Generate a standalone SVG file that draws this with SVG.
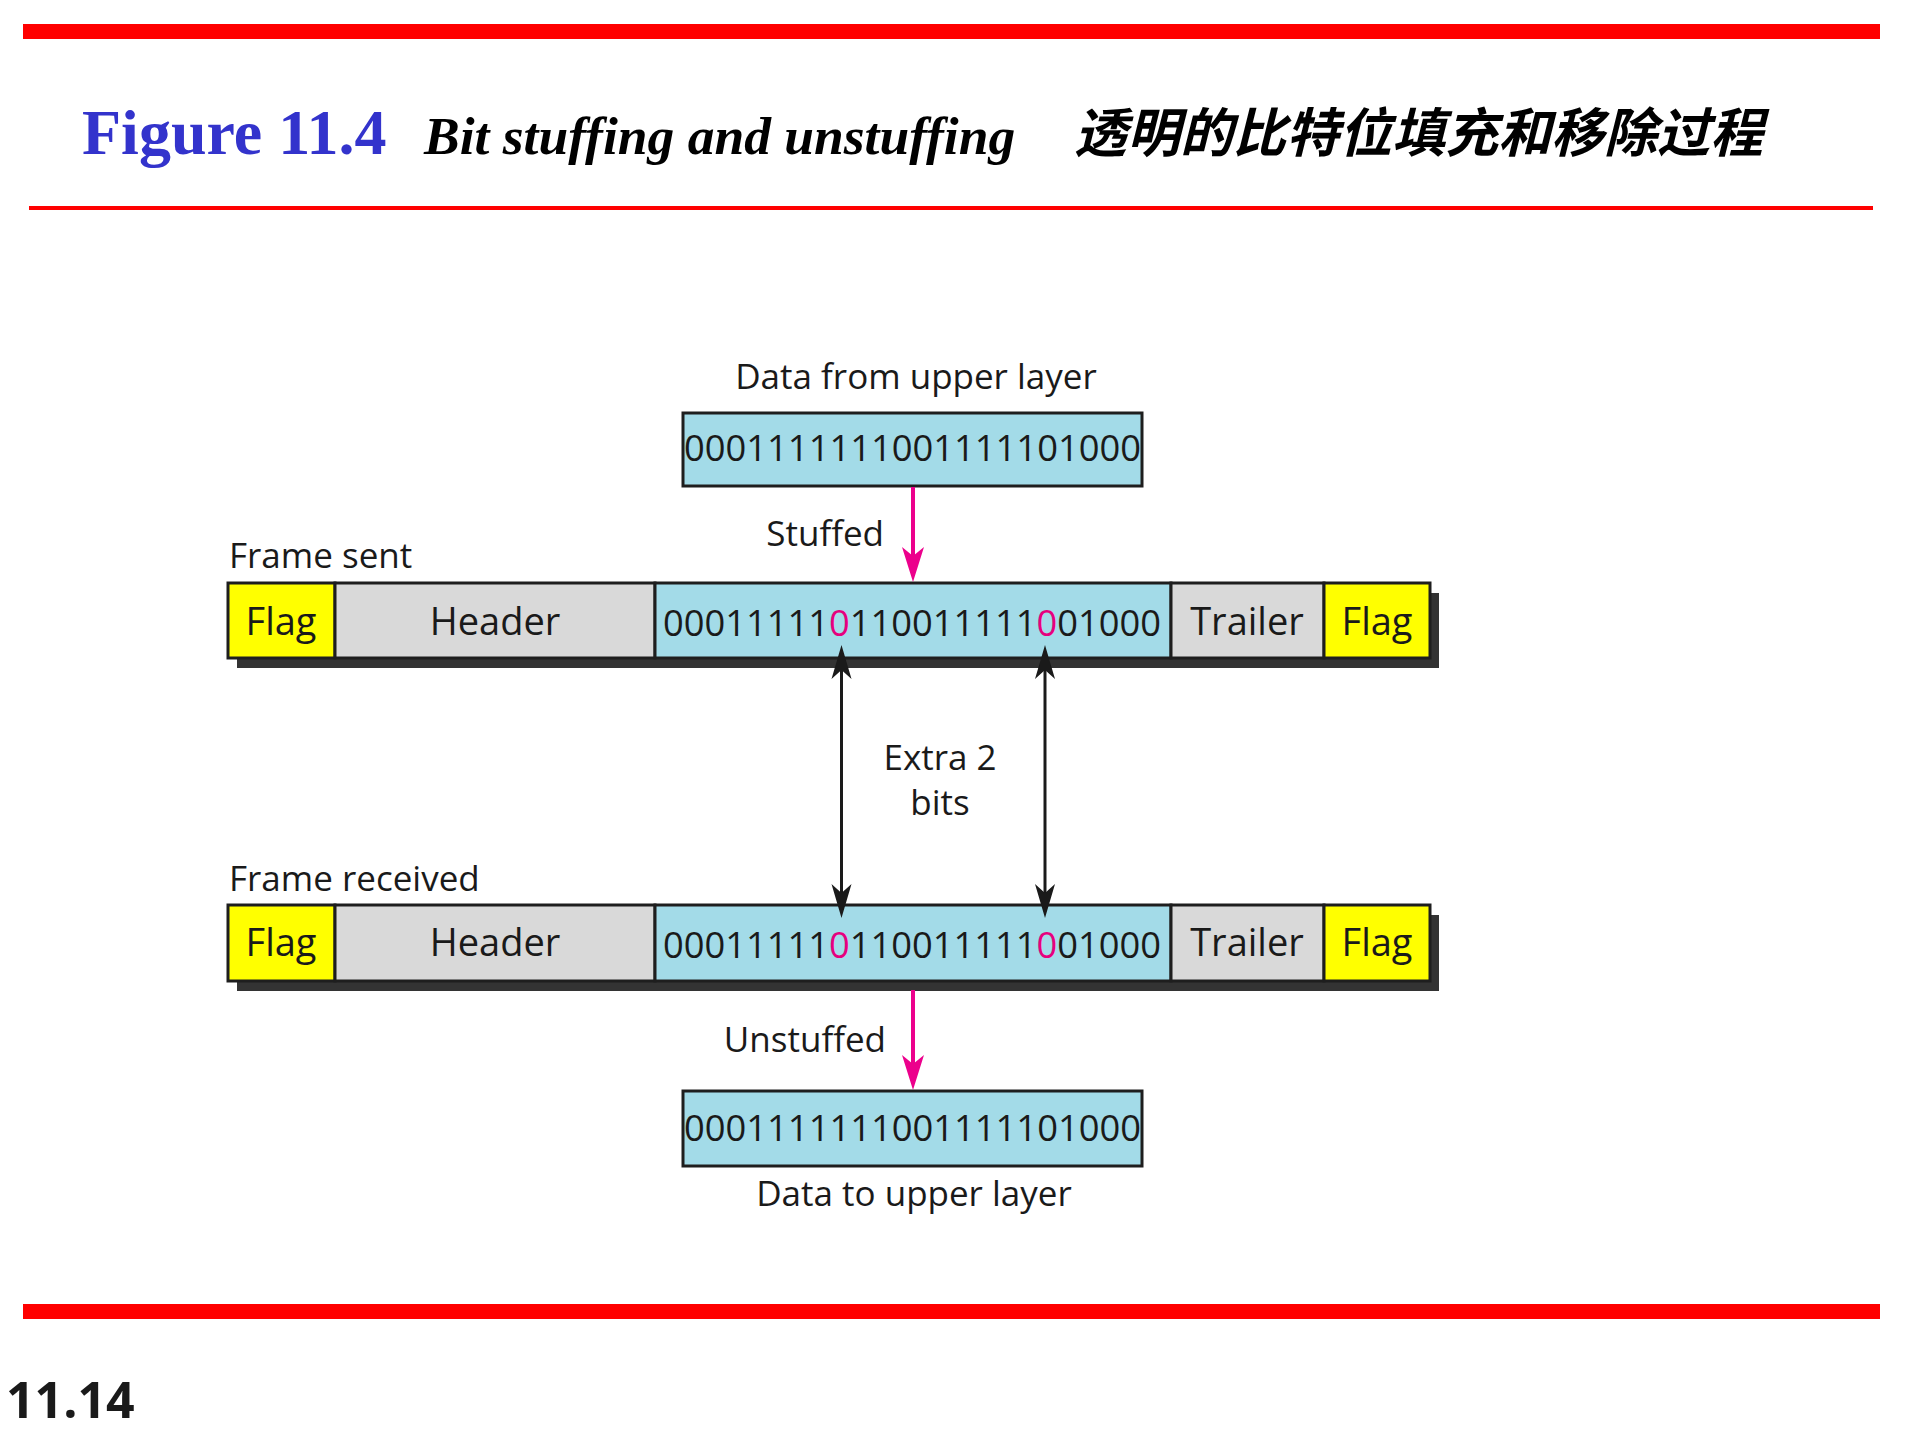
<svg xmlns="http://www.w3.org/2000/svg" width="1920" height="1440" viewBox="0 0 1920 1440">
  <style>
    .lbl { font-family: "Open Sans", "Noto Sans", sans-serif; font-size: 35px; fill: #1a1a1a; }
    .cell { font-family: "Open Sans", "Noto Sans", sans-serif; font-size: 38px; fill: #1a1a1a; text-anchor: middle; }
    .bits { font-family: "Open Sans", "Noto Sans", sans-serif; font-size: 36.2px; fill: #1a1a1a; }
    .pink { fill: #E6007E; }
    .box { stroke: #1e1e1e; stroke-width: 3; }
    .flag { fill: #FFFF00; }
    .gray { fill: #D9D9D9; }
    .blue { fill: #A3DBE8; }
    .shadow { fill: #333333; }
    .red { fill: #FF0000; }
    .conn-black { stroke: #1a1a1a; stroke-width: 3; fill: none; }
    .conn-pink { stroke: #EC008C; stroke-width: 4; fill: none; }
  </style>
  <defs>
    <marker id="ah-black" markerUnits="userSpaceOnUse" viewBox="-36 -12 37 24" markerWidth="37" markerHeight="24" refX="-10" refY="0" orient="auto-start-reverse">
      <path d="M0,0 L-34,-10 L-25,0 L-34,10 Z" fill="#1a1a1a"/>
    </marker>
    <marker id="ah-pink" markerUnits="userSpaceOnUse" viewBox="-37 -13 38 26" markerWidth="38" markerHeight="26" refX="-10" refY="0" orient="auto">
      <path d="M0,0 L-35,-11 L-26,0 L-35,11 Z" fill="#EC008C"/>
    </marker>
  </defs>

  <rect width="1920" height="1440" fill="#FFFFFF"/>

  <!-- Header bars and title -->
  <g id="title">
    <rect class="red" x="23" y="24" width="1857" height="15"/>
    <rect class="red" x="29" y="206" width="1844" height="4"/>
    <text x="82" y="154" font-family="Liberation Serif, serif" font-weight="bold" font-size="64" fill="#3333CC">Figure 11.4</text>
    <text x="424" y="154" font-family="Liberation Serif, serif" font-weight="bold" font-style="italic" font-size="53.5" fill="#000000">Bit stuffing and unstuffing</text>
    <text x="1074" y="152" font-family="Noto Sans CJK SC, sans-serif" font-weight="bold" font-style="italic" font-size="53" fill="#000000">透明的比特位填充和移除过程</text>
  </g>

  <!-- Data from upper layer -->
  <g id="data-from-upper">
    <text class="lbl" x="916" y="389" text-anchor="middle">Data from upper layer</text>
    <rect class="box blue" x="683" y="413" width="459" height="73"/>
    <text class="bits" x="684" y="461" textLength="457" lengthAdjust="spacingAndGlyphs">0001111111001111101000</text>
  </g>

  <!-- Frame sent -->
  <g id="frame-sent">
    <text class="lbl" x="229" y="568">Frame sent</text>
    <rect class="shadow" x="237" y="593" width="1202" height="75"/>
    <rect class="box flag" x="228" y="583" width="107" height="75"/>
    <rect class="box gray" x="335" y="583" width="320" height="75"/>
    <rect class="box blue" x="655" y="583" width="516" height="75"/>
    <rect class="box gray" x="1171" y="583" width="153" height="75"/>
    <rect class="box flag" x="1324" y="583" width="106" height="75"/>
    <text class="cell" x="281" y="635">Flag</text>
    <text class="cell" x="495" y="635">Header</text>
    <text class="bits" x="663" y="636" textLength="166" lengthAdjust="spacingAndGlyphs">00011111</text>
    <text class="bits pink" x="829" y="636" textLength="20.75" lengthAdjust="spacingAndGlyphs">0</text>
    <text class="bits" x="849.75" y="636" textLength="186.75" lengthAdjust="spacingAndGlyphs">110011111</text>
    <text class="bits pink" x="1036.5" y="636" textLength="20.75" lengthAdjust="spacingAndGlyphs">0</text>
    <text class="bits" x="1057.25" y="636" textLength="103.75" lengthAdjust="spacingAndGlyphs">01000</text>
    <text class="cell" x="1247" y="635">Trailer</text>
    <text class="cell" x="1377" y="635">Flag</text>
  </g>

  <!-- Extra 2 bits label -->
  <g id="extra-bits">
    <text class="lbl" x="940" y="770" text-anchor="middle">Extra 2</text>
    <text class="lbl" x="940" y="815" text-anchor="middle">bits</text>
  </g>

  <!-- Frame received -->
  <g id="frame-received">
    <text class="lbl" x="229" y="891">Frame received</text>
    <rect class="shadow" x="237" y="915" width="1202" height="76"/>
    <rect class="box flag" x="228" y="905" width="107" height="76"/>
    <rect class="box gray" x="335" y="905" width="320" height="76"/>
    <rect class="box blue" x="655" y="905" width="516" height="76"/>
    <rect class="box gray" x="1171" y="905" width="153" height="76"/>
    <rect class="box flag" x="1324" y="905" width="106" height="76"/>
    <text class="cell" x="281" y="956">Flag</text>
    <text class="cell" x="495" y="956">Header</text>
    <text class="bits" x="663" y="958" textLength="166" lengthAdjust="spacingAndGlyphs">00011111</text>
    <text class="bits pink" x="829" y="958" textLength="20.75" lengthAdjust="spacingAndGlyphs">0</text>
    <text class="bits" x="849.75" y="958" textLength="186.75" lengthAdjust="spacingAndGlyphs">110011111</text>
    <text class="bits pink" x="1036.5" y="958" textLength="20.75" lengthAdjust="spacingAndGlyphs">0</text>
    <text class="bits" x="1057.25" y="958" textLength="103.75" lengthAdjust="spacingAndGlyphs">01000</text>
    <text class="cell" x="1247" y="956">Trailer</text>
    <text class="cell" x="1377" y="956">Flag</text>
  </g>

  <!-- Data to upper layer -->
  <g id="data-to-upper">
    <rect class="box blue" x="683" y="1091" width="459" height="75"/>
    <text class="bits" x="684" y="1141" textLength="457" lengthAdjust="spacingAndGlyphs">0001111111001111101000</text>
    <text class="lbl" x="914" y="1206" text-anchor="middle">Data to upper layer</text>
  </g>

  <!-- Connectors -->
  <g id="connectors">
    <line class="conn-pink" x1="913" y1="487" x2="913" y2="572" marker-end="url(#ah-pink)"/>
    <text class="lbl" x="884" y="546" text-anchor="end">Stuffed</text>
    <line class="conn-black" x1="841.5" y1="655" x2="841.5" y2="908" marker-start="url(#ah-black)" marker-end="url(#ah-black)"/>
    <line class="conn-black" x1="1045" y1="655" x2="1045" y2="908" marker-start="url(#ah-black)" marker-end="url(#ah-black)"/>
    <line class="conn-pink" x1="913" y1="990" x2="913" y2="1080" marker-end="url(#ah-pink)"/>
    <text class="lbl" x="886" y="1052" text-anchor="end">Unstuffed</text>
  </g>

  <!-- Footer -->
  <g id="footer">
    <rect class="red" x="23" y="1304" width="1857" height="15"/>
    <text x="6" y="1418" font-family="Open Sans, Noto Sans, sans-serif" font-weight="bold" font-size="50" fill="#1a1a1a">11.14</text>
  </g>
</svg>
